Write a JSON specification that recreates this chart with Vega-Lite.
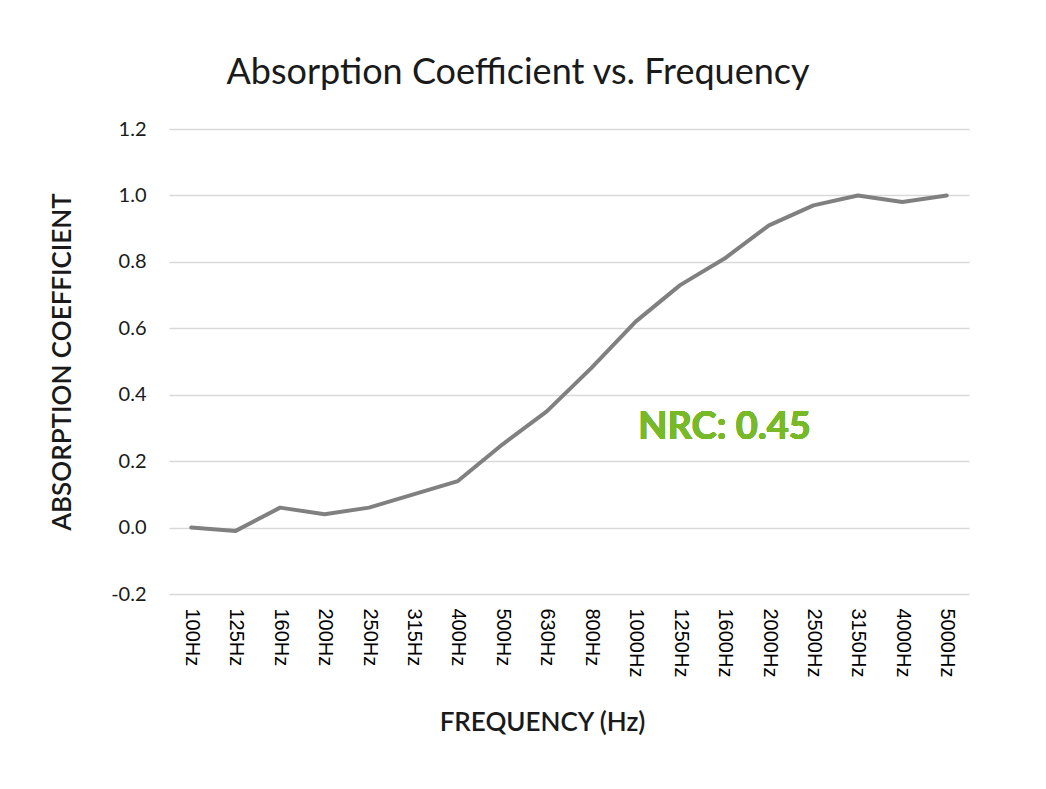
{
  "$schema": "https://vega.github.io/schema/vega-lite/v6.json",
  "width": 800,
  "height": 465,
  "autosize": "none",
  "padding": {"left": 169, "top": 129, "right": 77, "bottom": 195},
  "background": "white",
  "title": {
    "text": "Absorption Coefficient vs. Frequency",
    "font": "Lato",
    "fontSize": 36,
    "fontWeight": "normal",
    "color": "#1a1a1a",
    "anchor": "middle",
    "dx": -51,
    "baseline": "alphabetic",
    "offset": -1
  },
  "config": {
    "view": {"stroke": null},
    "font": "Lato"
  },
  "data": {
    "values": [
      {"freq": "100Hz", "coef": 0.0},
      {"freq": "125Hz", "coef": -0.01},
      {"freq": "160Hz", "coef": 0.06},
      {"freq": "200Hz", "coef": 0.04},
      {"freq": "250Hz", "coef": 0.06},
      {"freq": "315Hz", "coef": 0.10},
      {"freq": "400Hz", "coef": 0.14},
      {"freq": "500Hz", "coef": 0.25},
      {"freq": "630Hz", "coef": 0.35},
      {"freq": "800Hz", "coef": 0.48},
      {"freq": "1000Hz", "coef": 0.62},
      {"freq": "1250Hz", "coef": 0.73},
      {"freq": "1600Hz", "coef": 0.81},
      {"freq": "2000Hz", "coef": 0.91},
      {"freq": "2500Hz", "coef": 0.97},
      {"freq": "3150Hz", "coef": 1.0},
      {"freq": "4000Hz", "coef": 0.98},
      {"freq": "5000Hz", "coef": 1.0}
    ]
  },
  "layer": [
    {
      "mark": {"type": "line", "color": "#808080", "strokeWidth": 4, "strokeCap": "round", "strokeJoin": "round"},
      "encoding": {
        "x": {
          "field": "freq",
          "type": "ordinal",
          "sort": null,
          "scale": {"type": "point", "padding": 0.5},
          "axis": {
            "title": "FREQUENCY (Hz)",
            "titleFont": "Lato",
            "titleFontSize": 26,
            "titleFontWeight": 600,
            "titleColor": "#1a1a1a",
            "titleX": 373,
            "titleY": 136,
            "titleAlign": "center",
            "titleBaseline": "alphabetic",
            "labelAngle": 90,
            "labelAlign": "left",
            "labelBaseline": "middle",
            "labelFont": "Liberation Sans",
            "labelFontSize": 20,
            "labelColor": "#000000",
            "labelPadding": 14,
            "ticks": false,
            "domain": false,
            "grid": false
          }
        },
        "y": {
          "field": "coef",
          "type": "quantitative",
          "scale": {"domain": [-0.2, 1.2], "nice": false, "zero": false},
          "axis": {
            "values": [-0.2, 0, 0.2, 0.4, 0.6, 0.8, 1.0, 1.2],
            "format": ".1f",
            "labelExpr": "replace(datum.label, '\u2212', '-')",
            "title": "ABSORPTION COEFFICIENT",
            "titleFont": "Lato",
            "titleFontSize": 26,
            "titleFontWeight": 600,
            "titleColor": "#1a1a1a",
            "titlePadding": 35,
            "labelFont": "Lato",
            "labelFontSize": 20,
            "labelColor": "#1a1a1a",
            "labelPadding": 23,
            "ticks": false,
            "domain": false,
            "grid": true,
            "gridColor": "#d9d9d9",
            "gridWidth": 1.5
          }
        }
      }
    },
    {
      "mark": {"type": "text", "text": "NRC: 0.45", "font": "Lato", "fontSize": 38, "fontWeight": "bold", "color": "#78b928", "align": "center", "baseline": "alphabetic"},
      "encoding": {
        "x": {"datum": "1600Hz"},
        "y": {"datum": 0.268}
      }
    }
  ]
}
